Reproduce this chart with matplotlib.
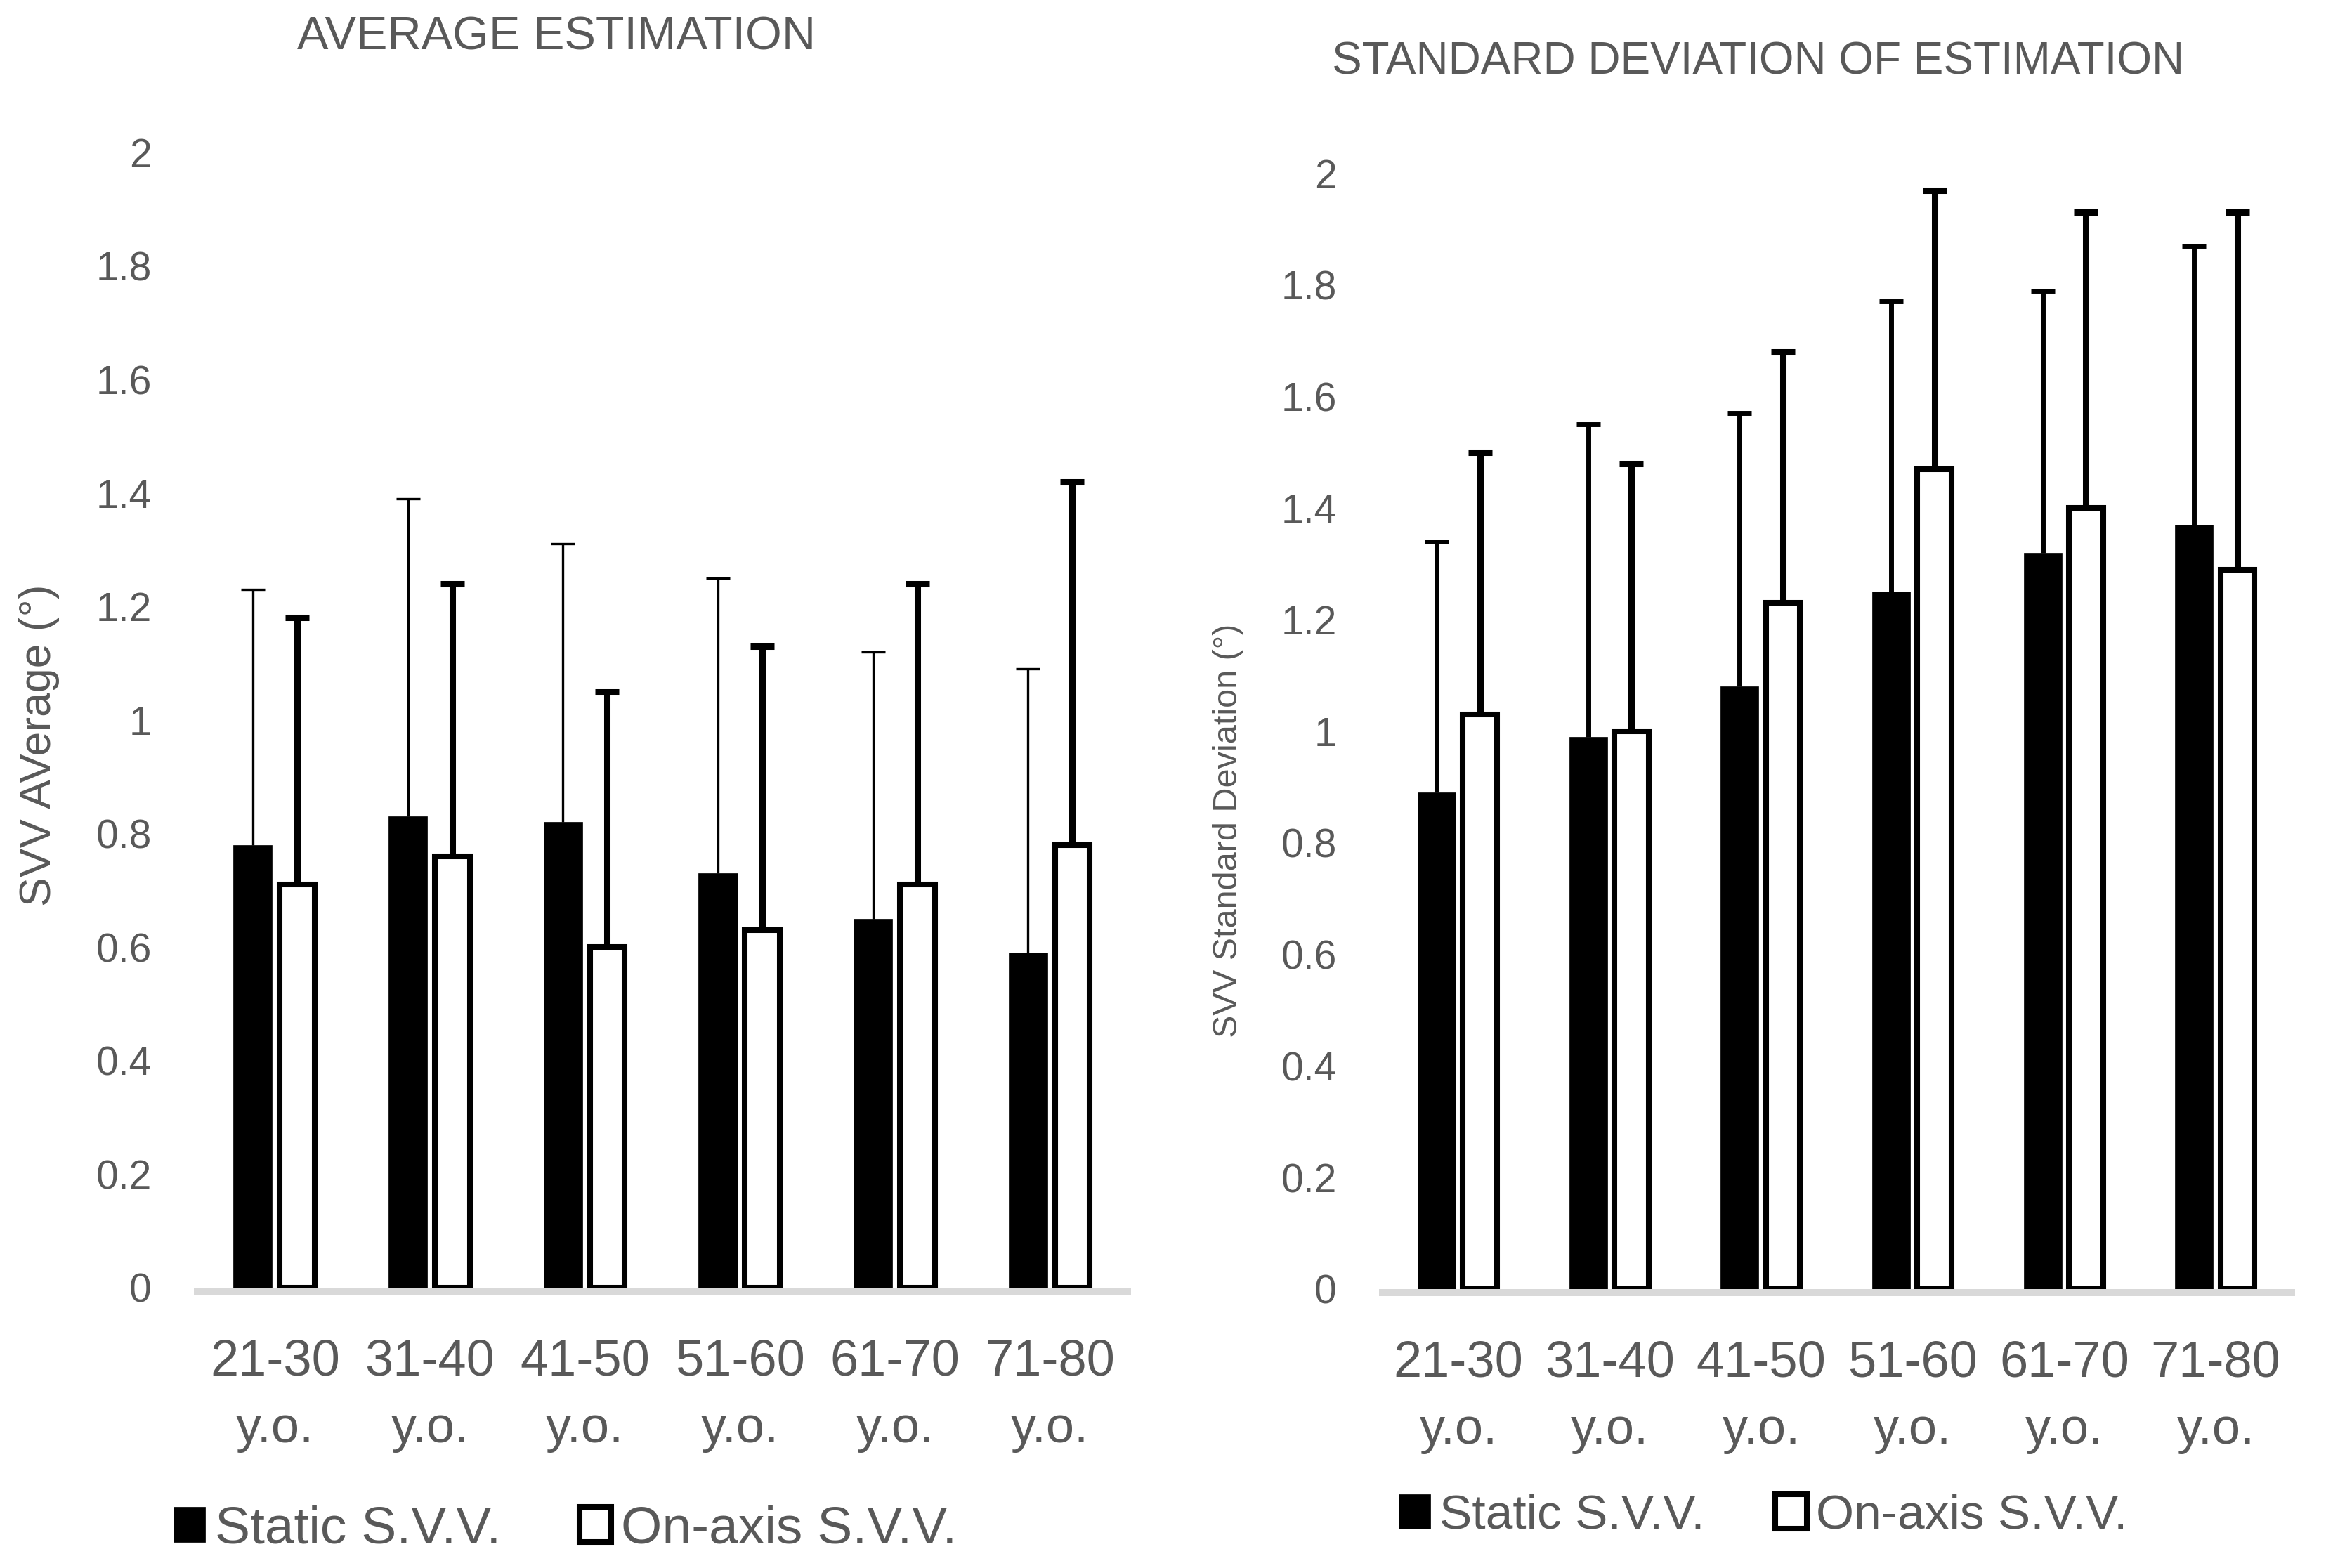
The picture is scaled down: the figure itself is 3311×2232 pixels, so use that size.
## SVV por grupo de edad: promedio y desviacion estandar
import numpy as np
import matplotlib.pyplot as plt
import matplotlib.transforms as mtrans

## ---------------------------------------
## DATOS
grupos = ["21-30\ny.o.", "31-40\ny.o.", "41-50\ny.o.", "51-60\ny.o.", "61-70\ny.o.", "71-80\ny.o."]

prom_static = [0.78, 0.83, 0.82, 0.73, 0.65, 0.59]
prom_onaxis = [0.71, 0.76, 0.60, 0.63, 0.71, 0.78]

sd_static = [0.89, 0.99, 1.08, 1.25, 1.32, 1.37]
sd_onaxis = [1.03, 1.00, 1.23, 1.47, 1.40, 1.29]

# barras de error (solo hacia arriba), iguales en ambos graficos
err_static = [0.45, 0.56, 0.49, 0.52, 0.47, 0.50]
err_onaxis = [0.47, 0.48, 0.45, 0.50, 0.53, 0.64]
## ---------------------------------------

gris = "#595959"
fuente = "Liberation Sans"
plt.rcParams["font.family"] = [fuente, "DejaVu Sans"]

fig = plt.figure(figsize=(33.11, 22.32), dpi=100)
ax1 = fig.add_axes([0.0849, 0.1788, 0.3999, 0.7240])
ax2 = fig.add_axes([0.5944, 0.1779, 0.3908, 0.7115])

x = np.arange(len(grupos))
off = 0.143
ceros = np.zeros(len(x))


def barras_error(ax, xs, ys, err, lw):
    _, caps, _ = ax.errorbar(xs, ys, yerr=[ceros, err], fmt="none", ecolor="black",
                             elinewidth=lw, capsize=12.5, capthick=lw, zorder=2)
    caps[0].remove()  # sin tapa abajo


def etiquetas_x(ax):
    # dos renglones por categoria, cada uno con su propia linea base
    for xi, g in zip(x, grupos):
        for renglon, baja in zip(g.split("\n"), [1.25, 2.20]):
            tr = ax.get_xaxis_transform() + mtrans.ScaledTranslation(0, -baja, fig.dpi_scale_trans)
            ax.text(xi, 0, renglon, transform=tr, ha="center", va="baseline",
                    fontsize=52, color=gris)


def panel(ax, static, onaxis, titulo, tsize, ylabel, ysize, tx, ty, lx, ly, lw_static):
    ax.bar(x - off, static, width=0.25, color="black", edgecolor="black",
           linewidth=0.5, zorder=3, label="Static S.V.V.")
    ax.bar(x + off, onaxis, width=0.225, color="white", edgecolor="black",
           linewidth=5.8, zorder=3, label="On-axis S.V.V.")
    barras_error(ax, x - off, static, err_static, lw_static)
    barras_error(ax, x + off, onaxis, err_onaxis, 6.5)
    ax.set_ylim(0, 2)
    ax.set_xlim(-0.5, len(x) - 0.5)
    ax.set_yticks(np.arange(0, 2.01, 0.2))
    ax.set_yticklabels(["0", "0.2", "0.4", "0.6", "0.8", "1", "1.2", "1.4", "1.6", "1.8", "2"])
    ax.tick_params(axis="y", length=0, pad=47, labelsize=41, labelcolor=gris)
    ax.set_xticks(x)
    ax.tick_params(axis="x", length=0, labelbottom=False)
    etiquetas_x(ax)
    for s in ["top", "right", "left"]:
        ax.spines[s].set_visible(False)
    ax.spines["bottom"].set_color("#d9d9d9")
    ax.spines["bottom"].set_linewidth(7.2)
    ax.spines["bottom"].set_position(("outward", 3.6))
    ax.set_ylabel(ylabel, fontsize=ysize, color=gris)
    ax.yaxis.set_label_coords(lx, ly)
    ax.text(tx, ty, titulo, transform=ax.transAxes, ha="center", va="center",
            fontsize=tsize, color=gris)


panel(ax1, prom_static, prom_onaxis, "AVERAGE ESTIMATION", 48, "SVV AVerage (°)",
      45, 0.386, 1.101, -0.148, 0.478, 2.4)
panel(ax2, sd_static, sd_onaxis, "STANDARD DEVIATION OF ESTIMATION", 46,
      "SVV Standard Deviation (°)", 35, 0.413, 1.0995, -0.152, 0.411, 5.0)

for ax, lx, ly, fs, hl, cs in [(ax1, 0.0746, 0.0246, 54, 0.6, 1.5),
                               (ax2, 0.6014, 0.0332, 50, 0.65, 1.45)]:
    ax.legend(loc="center left", bbox_to_anchor=(lx, ly), bbox_transform=fig.transFigure,
              ncol=2, frameon=False, fontsize=fs, labelcolor=gris,
              handlelength=hl, handleheight=hl + 0.05, handletextpad=0.18,
              columnspacing=cs, borderpad=0, borderaxespad=0)

fig.savefig("out.png", dpi=100, facecolor="white")
